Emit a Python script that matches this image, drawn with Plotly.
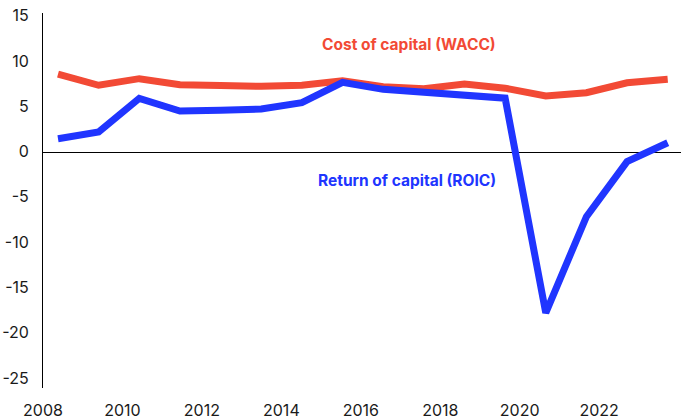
import plotly.graph_objects as go

years = list(range(2008, 2024))
wacc = [8.66, 7.42, 8.15, 7.48, 7.4, 7.3, 7.42, 7.93, 7.26, 7.04, 7.56, 7.1, 6.24, 6.6, 7.7, 8.08]
roic = [1.52, 2.26, 5.98, 4.58, 4.65, 4.8, 5.5, 7.75, 6.97, 6.68, 6.46, 6.0, -17.7, -7.08, -1.0, 1.08]

ytick_vals = [15, 10, 5, 0, -5, -10, -15, -20, -25]
ytick_text = ["15", "10", "5", "0", "-5", "-10", "-15", "-20", "-25"]
xtick_vals = [2008, 2010, 2012, 2014, 2016, 2018, 2020, 2022]
xtick_text = [str(v) for v in xtick_vals]

RED = "#F24A35"
BLUE = "#2035FF"
FONT = "Inter"

fig = go.Figure()
fig.add_trace(go.Scatter(x=years, y=wacc, mode="lines", xaxis="x2", yaxis="y",
                         line=dict(color=RED, width=7), hoverinfo="skip", showlegend=False))
fig.add_trace(go.Scatter(x=years, y=roic, mode="lines", xaxis="x2", yaxis="y",
                         line=dict(color=BLUE, width=7), hoverinfo="skip", showlegend=False))

fig.add_annotation(x=2019.45, y=11.87, xref="x", yref="y", xanchor="right", yanchor="middle",
                   text="<b>Cost of capital (WACC)</b>", showarrow=False,
                   font=dict(family=FONT, size=15.5, color=RED))
fig.add_annotation(x=2019.45, y=-3.04, xref="x", yref="y", xanchor="right", yanchor="middle",
                   text="<b>Return of capital (ROIC)</b>", showarrow=False,
                   font=dict(family=FONT, size=15.5, color=BLUE))

fig.update_layout(
    width=681, height=418,
    margin=dict(l=43, r=0, t=13, b=30, autoexpand=False),
    paper_bgcolor="white", plot_bgcolor="white",
    font=dict(family=FONT, size=16, color="#1a1a1a"),
    xaxis=dict(range=[2008, 2024.06], tickvals=xtick_vals, ticktext=xtick_text,
               showgrid=False, zeroline=False, showline=False, ticks="",
               ticklabelstandoff=11, automargin=False, fixedrange=True),
    xaxis2=dict(range=[2007.631, 2023.327], overlaying="x", visible=False,
                showgrid=False, zeroline=False, fixedrange=True),
    yaxis=dict(range=[-26.0, 15.4], tickvals=ytick_vals, ticktext=ytick_text,
               showgrid=False, zeroline=True, zerolinecolor="#000000", zerolinewidth=1,
               showline=True, linecolor="#000000", linewidth=1, ticks="",
               ticklabelstandoff=10, ticklabelshift=-1, automargin=False, fixedrange=True),
)

fig.write_html("out.html", config={"displayModeBar": False},
               post_script="document.body.style.margin='0';document.body.style.overflow='hidden';")
